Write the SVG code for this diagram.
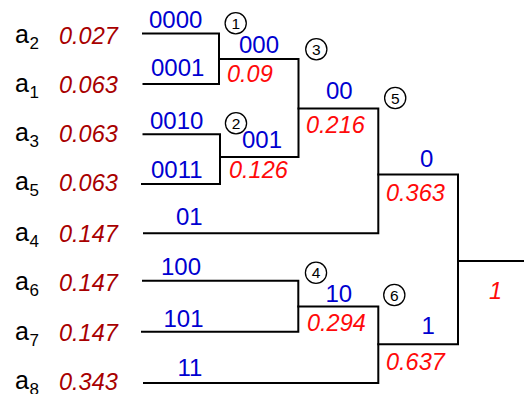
<svg xmlns="http://www.w3.org/2000/svg" width="524" height="394" viewBox="0 0 524 394">
  <style>
    text { font-family: "Liberation Sans", Arial, Helvetica, sans-serif; }
    .sym { font-size: 25px; fill: #000; }
    .sub { font-size: 17px; fill: #000; }
    .p { font-size: 23.5px; font-style: italic; fill: #a80000; }
    .q { font-size: 23.5px; font-style: italic; fill: #ff0a0a; }
    .code { font-size: 24px; fill: #0000d0; }
    .num { font-size: 15.5px; fill: #000; text-anchor: middle; }
    .ring { fill: none; stroke: #000; stroke-width: 1.3; }
    .edge { fill: none; stroke: #000; stroke-width: 2; stroke-linecap: square; stroke-linejoin: miter; }
  </style>

  <rect width="524" height="394" fill="#fff"/>

  <!-- tree branches -->
  <g id="connectors">
    <path class="edge" d="M143,33.5 H219 V84 H143.5"/>
    <path class="edge" d="M143.5,134.3 H220 V184 H142"/>
    <path class="edge" d="M219,59 H298.5 V157 H220"/>
    <path class="edge" d="M298.5,108.5 H378.3 V233.3 H144"/>
    <path class="edge" d="M143,280.7 H298.3 V331.7 H142"/>
    <path class="edge" d="M298.3,306.5 H378.3 V383 H144"/>
    <path class="edge" d="M378.3,174.5 H458 V344.3 H378.3"/>
    <path class="edge" d="M458,261 H524"/>
  </g>

  <!-- source symbols with probabilities and code words -->
  <g id="leaf-a2">
    <text class="sym" x="15" y="42.5">a</text><text class="sub" x="29.5" y="48.5">2</text>
    <text class="p" x="59" y="44">0.027</text>
    <text class="code" x="149" y="27.7">0000</text>
  </g>
  <g id="leaf-a1">
    <text class="sym" x="15" y="91.5">a</text><text class="sub" x="29.5" y="97.5">1</text>
    <text class="p" x="59" y="92.5">0.063</text>
    <text class="code" x="151" y="76">0001</text>
  </g>
  <g id="leaf-a3">
    <text class="sym" x="15" y="141">a</text><text class="sub" x="29.5" y="147">3</text>
    <text class="p" x="59" y="142">0.063</text>
    <text class="code" x="150" y="129">0010</text>
  </g>
  <g id="leaf-a5">
    <text class="sym" x="15" y="190">a</text><text class="sub" x="29.5" y="196">5</text>
    <text class="p" x="59" y="191">0.063</text>
    <text class="code" x="151" y="178">0011</text>
  </g>
  <g id="leaf-a4">
    <text class="sym" x="15" y="241">a</text><text class="sub" x="29.5" y="247">4</text>
    <text class="p" x="59" y="242">0.147</text>
    <text class="code" x="176" y="224.7">01</text>
  </g>
  <g id="leaf-a6">
    <text class="sym" x="15" y="290">a</text><text class="sub" x="29.5" y="296">6</text>
    <text class="p" x="59" y="291">0.147</text>
    <text class="code" x="161" y="275">100</text>
  </g>
  <g id="leaf-a7">
    <text class="sym" x="15" y="340">a</text><text class="sub" x="29.5" y="346">7</text>
    <text class="p" x="59" y="341">0.147</text>
    <text class="code" x="163.5" y="327.3">101</text>
  </g>
  <g id="leaf-a8">
    <text class="sym" x="15" y="389">a</text><text class="sub" x="29.5" y="395">8</text>
    <text class="p" x="59" y="390">0.343</text>
    <text class="code" x="177.5" y="375.7">11</text>
  </g>

  <!-- merge steps -->
  <g id="node-1">
    <circle class="ring" cx="235.7" cy="23.3" r="10.6"/>
    <text class="num" x="235.7" y="28.8">1</text>
    <text class="code" x="239" y="53.3">000</text>
    <text class="q" x="227" y="82">0.09</text>
  </g>
  <g id="node-2">
    <circle class="ring" cx="236" cy="123.3" r="10.6"/>
    <text class="num" x="236" y="128.8">2</text>
    <text class="code" x="242" y="148.3">001</text>
    <text class="q" x="229" y="178.3">0.126</text>
  </g>
  <g id="node-3">
    <circle class="ring" cx="316.3" cy="49.3" r="10.6"/>
    <text class="num" x="316.3" y="54.8">3</text>
    <text class="code" x="326" y="99.3">00</text>
    <text class="q" x="306" y="133">0.216</text>
  </g>
  <g id="node-5">
    <circle class="ring" cx="395.2" cy="98" r="10.6"/>
    <text class="num" x="395.2" y="103.5">5</text>
    <text class="code" x="420" y="166.7">0</text>
    <text class="q" x="386" y="200.7">0.363</text>
  </g>
  <g id="node-4">
    <circle class="ring" cx="316" cy="272.7" r="10.6"/>
    <text class="num" x="316" y="278.2">4</text>
    <text class="code" x="325.5" y="301.7">10</text>
    <text class="q" x="307" y="331">0.294</text>
  </g>
  <g id="node-6">
    <circle class="ring" cx="394.3" cy="295" r="10.6"/>
    <text class="num" x="394.3" y="300.5">6</text>
    <text class="code" x="421.5" y="334">1</text>
    <text class="q" x="386" y="370">0.637</text>
  </g>
  <g id="root">
    <text class="q" x="489" y="299">1</text>
  </g>
</svg>
